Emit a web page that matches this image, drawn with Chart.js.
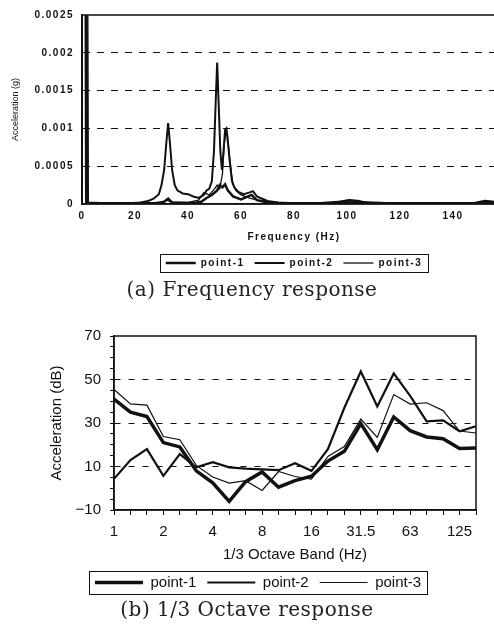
<!DOCTYPE html>
<html>
<head>
<meta charset="utf-8">
<script src="https://cdn.jsdelivr.net/npm/chart.js@4.4.0/dist/chart.umd.min.js"></script>
<style>
html, body { margin: 0; padding: 0; background: #fff; overflow: hidden; width: 494px; height: 633px; }
#wrap { position: relative; width: 494px; height: 633px; overflow: hidden; }
#freqChart { position: absolute; left: 0; top: 0; }
#octChart { position: absolute; left: 0; top: 318px; }
.cap { position: absolute; left: 0; width: 494px; text-align: center; font-family: "DejaVu Serif", serif; font-size: 20px; letter-spacing: 0.5px; line-height: 22px; color: #222; }
</style>
</head>
<body>
<div id="wrap">
  <canvas id="freqChart" width="512" height="300"></canvas>
  <canvas id="octChart" width="494" height="315"></canvas>
  <div class="cap" style="top:278px; left:5px">(a) Frequency response</div>
  <div class="cap" style="top:598px">(b) 1/3 Octave response</div>
</div>
<script>
// (a) frequency response (Hz, g)
const freq1 = [0, 1.3, 1.6, 15, 28, 31, 32.5, 34, 42, 45, 47, 49, 51, 52, 53, 54, 55, 57, 60, 62, 64, 66, 70, 75, 90, 98, 101, 104, 108, 130, 148, 152, 155, 160];
const acc1 = [0.004, 0.004, 0.00001, 0.00001, 0.00001, 0.00003, 0.00007, 0.00002, 0.00001, 0.00003, 0.00008, 0.00012, 0.00018, 0.00025, 0.00022, 0.00026, 0.00018, 0.0001, 0.00006, 0.00009, 0.00012, 0.00005, 0.00002, 0.00001, 0.00001, 0.00003, 0.00005, 0.00004, 0.00001, 0.00001, 0.00001, 0.00004, 0.00003, 0.00002];

const freq2 = [0, 1.7, 2, 10, 18, 22, 25, 27, 29, 30, 31, 31.8, 32.5, 33.2, 34, 35, 36, 38, 40, 42, 44, 46, 47, 48, 49, 49.8, 50.4, 51, 51.6, 52.2, 52.8, 53.4, 54, 54.5, 55.1, 55.8, 56.6, 57.5, 59, 61, 63, 64.5, 66, 68, 70, 74, 80, 90, 100, 110, 120, 130, 140, 150, 160];
const acc2 = [0.004, 0.004, 0.00002, 0.00001, 0.00001, 0.00002, 0.00004, 0.00007, 0.00013, 0.00025, 0.00045, 0.0008, 0.00107, 0.0008, 0.00045, 0.00025, 0.00018, 0.00014, 0.00013, 0.0001, 0.00008, 0.00012, 0.00018, 0.0002, 0.0003, 0.0007, 0.0013, 0.00187, 0.0013, 0.0007, 0.00045, 0.0007, 0.00098, 0.001, 0.0008, 0.00055, 0.0003, 0.00022, 0.00016, 0.00013, 0.00015, 0.00017, 0.0001, 0.00007, 0.00004, 0.00002, 0.00001, 0.00001, 0.00002, 0.00001, 0.00001, 0.00001, 0.00001, 0.00001, 0.00001];

const freq3 = [0, 2.1, 2.4, 20, 30, 32, 34, 40, 44, 46, 48, 50, 51, 52, 53, 53.7, 54.3, 54.9, 55.6, 56.4, 57, 58, 60, 63, 65, 68, 72, 80, 95, 100, 105, 120, 140, 160];
const acc3 = [0.004, 0.004, 0.00002, 0.00001, 0.00002, 0.00005, 0.00002, 0.00002, 0.00005, 0.00015, 0.00012, 0.0002, 0.00025, 0.0002, 0.0004, 0.0008, 0.00095, 0.0009, 0.00065, 0.0004, 0.00026, 0.00018, 0.00012, 0.00008, 0.00006, 0.00004, 0.00002, 0.00001, 0.00002, 0.00005, 0.00003, 0.00001, 0.00001, 0.00002];

// (b) 1/3 octave response (dB)
const bands = ['1', '1.25', '1.6', '2', '2.5', '3.15', '4', '5', '6.3', '8', '10', '12.5', '16', '20', '25', '31.5', '40', '50', '63', '80', '100', '125', '160'];
const db1 = [41, 35, 33, 21, 19, 8, 2.5, -6, 3, 7.5, 0.5, 3.5, 5.5, 12.5, 17, 29.7, 17.7, 32.8, 26.5, 23.6, 22.8, 18.3, 18.5];
const db2 = [4.3, 13, 18, 5.7, 15.7, 9.6, 12, 9.6, 9, 8.7, 8.3, 11.5, 8, 18, 37, 53.7, 37.6, 52.8, 42.5, 30.8, 31.2, 26.2, 28.5];
const db3 = [45.4, 38.8, 38.2, 23.8, 22.3, 10.5, 5.2, 2.4, 3.5, -1, 7.7, 5.4, 4.2, 14.6, 19.2, 31.8, 23.4, 43.1, 38.7, 39.3, 35.7, 26.3, 25.4];

const ink = '#111';
const sans = 'Liberation Sans, Arial, sans-serif';

// box round the plot area
const frame = {
  id: 'frame',
  afterDraw(chart) {
    const { ctx, chartArea: a } = chart;
    ctx.save();
    ctx.strokeStyle = ink;
    ctx.lineWidth = 1.5;
    ctx.strokeRect(a.left, a.top, a.right - a.left, a.bottom - a.top);
    ctx.restore();
  }
};

// border round the legend items
const legendBox = {
  id: 'legendBox',
  afterDraw(chart) {
    const boxes = chart.legend.legendHitBoxes;
    if (!boxes || !boxes.length) return;
    const left = Math.min(...boxes.map(b => b.left)) - 6;
    const right = Math.max(...boxes.map(b => b.left + b.width)) + 6;
    const top = boxes[0].top - 4;
    const h = boxes[0].height + 8;
    const ctx = chart.ctx;
    ctx.save();
    ctx.strokeStyle = ink;
    ctx.lineWidth = 1;
    ctx.strokeRect(Math.round(left) + 0.5, Math.round(top) + 0.5, Math.round(right - left), Math.round(h));
    ctx.restore();
  }
};

// the scanned top figure has wide letter spacing, except the y title
// (y grid + border layers have z 1, so they are drawn after the datasets)
const spaced = {
  id: 'spaced',
  beforeLayout(chart) { chart.ctx.letterSpacing = '1.5px'; },
  beforeDraw(chart) { chart.ctx.letterSpacing = '1.5px'; },
  afterDatasetsDraw(chart) { chart.ctx.letterSpacing = '0px'; }
};

const toPoints = (xs, ys) => xs.map((x, i) => ({ x: x, y: ys[i] }));
const topFont = { family: sans, size: 10, weight: 'bold' };

new Chart(document.getElementById('freqChart'), {
  type: 'line',
  data: {
    datasets: [
      { label: 'point-1', data: toPoints(freq1, acc1), borderColor: ink, backgroundColor: ink, borderWidth: 2.5 },
      { label: 'point-2', data: toPoints(freq2, acc2), borderColor: ink, backgroundColor: ink, borderWidth: 2 },
      { label: 'point-3', data: toPoints(freq3, acc3), borderColor: ink, backgroundColor: ink, borderWidth: 1.3 }
    ]
  },
  options: {
    responsive: false,
    animation: false,
    devicePixelRatio: 1,
    layout: { padding: { top: 15, right: 6, left: 0, bottom: 22 } },
    elements: { point: { radius: 0 }, line: { tension: 0 } },
    scales: {
      x: {
        type: 'linear', min: 0, max: 160,
        ticks: { stepSize: 20, color: ink, font: topFont, padding: 6, maxRotation: 0, callback: v => (v > 150 ? '' : String(v)) },
        grid: { display: false, drawTicks: false },
        border: { color: ink, width: 1.5 },
        title: { display: true, text: 'Frequency (Hz)', color: ink, font: topFont, padding: { top: 0, bottom: 5 } },
        afterFit(s) { s.height = 44; }
      },
      y: {
        min: 0, max: 0.0025,
        ticks: { stepSize: 0.0005, color: ink, font: topFont, padding: 8, callback: v => String(+v.toFixed(4)) },
        grid: {
          z: 1,
          drawTicks: false,
          color: c => (c.tick && c.tick.value > 0 && c.tick.value < 0.0025) ? ink : 'rgba(0,0,0,0)'
        },
        border: { z: 1, color: ink, width: 2, dash: [7, 7] },
        title: { display: true, text: 'Acceleration (g)', color: ink, font: { family: sans, size: 9 }, padding: { top: 10 } },
        afterFit(s) { s.width = 82; }
      }
    },
    plugins: {
      legend: {
        position: 'bottom', fullSize: false,
        labels: { usePointStyle: true, pointStyle: 'line', pointStyleWidth: 30, color: ink, font: topFont, padding: 10 }
      },
      tooltip: { enabled: false }
    }
  },
  plugins: [spaced, frame, legendBox]
});

const octFont = { family: sans, size: 15 };

new Chart(document.getElementById('octChart'), {
  type: 'line',
  data: {
    labels: bands,
    datasets: [
      { label: 'point-1', data: db1, borderColor: ink, backgroundColor: ink, borderWidth: 3.5 },
      { label: 'point-2', data: db2, borderColor: ink, backgroundColor: ink, borderWidth: 2.2 },
      { label: 'point-3', data: db3, borderColor: ink, backgroundColor: ink, borderWidth: 1.2 }
    ]
  },
  options: {
    responsive: false,
    animation: false,
    devicePixelRatio: 1,
    layout: { padding: { top: 18, right: 18, left: 40, bottom: 33 } },
    elements: { point: { radius: 0 }, line: { tension: 0 } },
    scales: {
      x: {
        offset: false,
        ticks: { color: ink, font: octFont, padding: 8, autoSkip: false, maxRotation: 0, callback: (v, i) => (i % 3 === 0 ? bands[i] : '') },
        grid: { drawOnChartArea: false, tickLength: 5, tickColor: ink },
        border: { color: ink, width: 1.5 },
        title: { display: true, text: '1/3 Octave Band (Hz)', color: ink, font: octFont, padding: { top: 0, bottom: 0 } },
        afterFit(s) { s.height = 54; }
      },
      y: {
        min: -10, max: 70,
        ticks: { stepSize: 5, autoSkip: false, color: ink, font: octFont, padding: 9, callback: v => ((v + 10) % 20 === 0 ? String(v).replace('-', '\u2212') : '') },
        grid: {
          tickLength: 4, tickColor: ink,
          color: c => (c.tick && [10, 30, 50].includes(c.tick.value)) ? ink : 'rgba(0,0,0,0)'
        },
        border: { color: ink, width: 1.5, dash: [6, 8] },
        title: { display: true, text: 'Acceleration (dB)', color: ink, font: octFont, padding: { top: 8 } },
        afterFit(s) { s.width = 74; }
      }
    },
    plugins: {
      legend: {
        position: 'bottom',
        labels: { usePointStyle: true, pointStyle: 'line', pointStyleWidth: 48, color: ink, font: octFont, padding: 11 }
      },
      tooltip: { enabled: false }
    }
  },
  plugins: [frame, legendBox]
});
</script>
</body>
</html>
